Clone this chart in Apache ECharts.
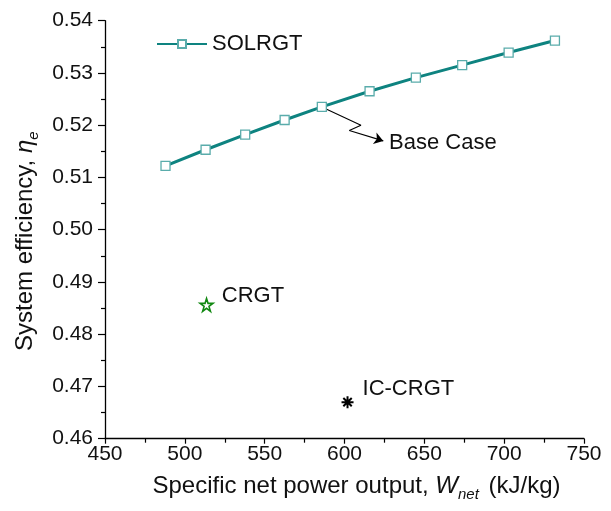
<!DOCTYPE html>
<html>
<head>
<meta charset="utf-8">
<script src="https://cdn.jsdelivr.net/npm/echarts@6/dist/echarts.min.js"></script>
<style>
html,body{margin:0;padding:0;background:#fff;}
#chart{width:611px;height:511px;}
</style>
</head>
<body>
<div id="chart"></div>
<script>
// ---- data ----
var solrgtPower = [487.9, 513.0, 537.8, 562.5, 585.8, 615.7, 644.7, 673.7, 702.8, 731.8];
var solrgtEff   = [0.5122, 0.5153, 0.5182, 0.5210, 0.5235, 0.5265, 0.5291, 0.5315, 0.5339, 0.5362];
var crgtPoint   = [513.6, 0.4856];
var icCrgtPoint = [601.9, 0.4670];
var baseCaseIndex = 4;
var arrowZig    = [[610.3, 0.5200], [603.0, 0.5190]];
var arrowEnd    = [624.3, 0.5170];
var xTicks = [450, 500, 550, 600, 650, 700, 750];
var yTicks = [0.46, 0.47, 0.48, 0.49, 0.50, 0.51, 0.52, 0.53, 0.54];

var FONT = 'Liberation Sans, Arial, sans-serif';
var TXT = '#111';
var chart = echarts.init(document.getElementById('chart'));

var solData = solrgtPower.map(function (p, i) { return [p, solrgtEff[i]]; });
var basePt = solData[baseCaseIndex];
var zigData = [basePt].concat(arrowZig);

var asterisk = 'path://M5,0L5,10M0,5L10,5M1.5,1.5L8.5,8.5M1.5,8.5L8.5,1.5';

function richName(subSize, pad) {
  return {
    fontFamily: FONT, fontSize: 24, color: TXT, padding: pad,
    rich: {
      n: { fontFamily: FONT, fontSize: 24, color: TXT, lineHeight: 28, verticalAlign: 'top' },
      i: { fontFamily: FONT, fontSize: 24, color: TXT, fontStyle: 'italic', lineHeight: 28, verticalAlign: 'top' },
      s: { fontFamily: FONT, fontSize: subSize, color: TXT, fontStyle: 'italic', lineHeight: subSize, verticalAlign: 'bottom', padding: [0, 3, 0, 0] }
    }
  };
}

var option = {
  animation: false,
  backgroundColor: '#fff',
  grid: { left: 105, right: 27, top: 20.7, bottom: 72.3, containLabel: false },
  legend: {
    data: ['SOLRGT'],
    left: 151, top: 28,
    itemWidth: 50, itemHeight: 10, itemGap: 6,
    textStyle: { fontFamily: FONT, fontSize: 22, color: TXT }
  },
  xAxis: {
    type: 'value', min: xTicks[0], max: xTicks[xTicks.length - 1], interval: 50,
    axisLine: { show: true, lineStyle: { color: '#000', width: 1.3 } },
    axisTick: { show: true, length: 5, inside: false, lineStyle: { color: '#000', width: 1.2 } },
    minorTick: { show: true, splitNumber: 2, length: 4, lineStyle: { color: '#000', width: 1.2 } },
    splitLine: { show: false },
    axisLabel: { fontFamily: FONT, fontSize: 21, color: TXT, margin: 5 },
    name: '{n|Specific net power output, }{i|W}{s|net}{n| (kJ/kg)}',
    nameLocation: 'middle', nameGap: 36,
    nameTextStyle: richName(15, [0, 0, 0, 24])
  },
  yAxis: {
    type: 'value', min: yTicks[0], max: yTicks[yTicks.length - 1], interval: 0.01,
    axisLine: { show: true, lineStyle: { color: '#000', width: 1.3 } },
    axisTick: { show: true, length: 7, inside: false, lineStyle: { color: '#000', width: 1.2 } },
    minorTick: { show: true, splitNumber: 2, length: 4, lineStyle: { color: '#000', width: 1.2 } },
    splitLine: { show: false },
    axisLabel: { fontFamily: FONT, fontSize: 21, color: TXT, margin: 12,
      formatter: function (v) { return v.toFixed(2); } },
    name: '{n|System efficiency, }{i|η}{s|e}',
    nameLocation: 'middle', nameGap: 54, nameRotate: 90,
    nameTextStyle: richName(15, [0, 20, 0, 0])
  },
  series: [
    {
      name: 'SOLRGT', type: 'line', data: solData,
      symbol: 'rect', symbolSize: 9,
      lineStyle: { color: '#0e8380', width: 3 },
      itemStyle: { color: '#fff', borderColor: '#5aacab', borderWidth: 1.3 },
      z: 3
    },
    {
      name: 'arrow', type: 'line', data: zigData,
      symbol: 'none', silent: true,
      lineStyle: { color: '#000', width: 1.1 },
      z: 2,
      markLine: {
        silent: true, symbol: ['none', 'arrow'], symbolSize: 9,
        lineStyle: { color: '#000', width: 1.1, type: 'solid' },
        itemStyle: { color: '#000' },
        label: { show: true, position: 'end', distance: 6, formatter: 'Base Case',
          fontFamily: FONT, fontSize: 22, color: TXT },
        data: [[{ coord: arrowZig[arrowZig.length - 1] }, { coord: arrowEnd }]]
      }
    },
    {
      name: 'CRGT', type: 'scatter', data: [crgtPoint],
      symbol: 'path://M50,2L61,37L98,37L68,59L79,95L50,73L21,95L32,59L2,37L39,37Z',
      symbolSize: 13,
      itemStyle: { color: '#fff', borderColor: '#118811', borderWidth: 1.6, opacity: 1 },
      label: { show: true, position: 'right', distance: 8, offset: [0, -9],
        formatter: 'CRGT', fontFamily: FONT, fontSize: 22, color: TXT }
    },
    {
      name: 'IC-CRGT', type: 'scatter', data: [icCrgtPoint],
      symbol: asterisk, symbolSize: 12,
      itemStyle: { color: '#000', borderColor: '#000', borderWidth: 2, opacity: 1 },
      label: { show: true, position: 'right', distance: 8, offset: [0, -13],
        formatter: 'IC-CRGT', fontFamily: FONT, fontSize: 22, color: TXT }
    }
  ]
};
chart.setOption(option);
</script>
</body>
</html>
